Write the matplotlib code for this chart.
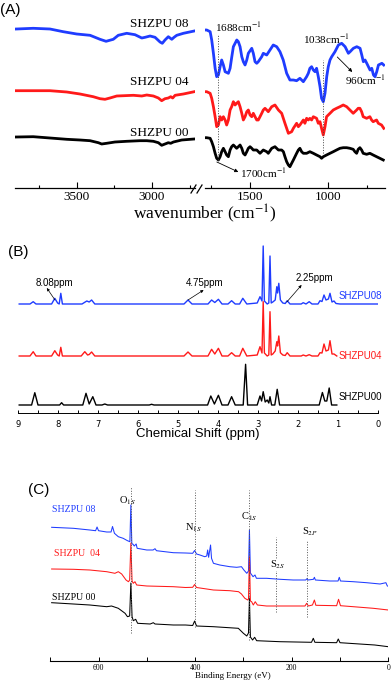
import matplotlib
matplotlib.use("Agg")
import matplotlib.pyplot as plt
from matplotlib.lines import Line2D

plt.rcParams['mathtext.fontset'] = 'stix'
SERIF = 'Liberation Serif'
SANS = 'Liberation Sans'
BLUE = '#1f3cff'
RED = '#ff1a1a'

# ---------------- (A) FTIR, two broken segments ----------------
ir_left_wn_08 = [3900, 3788, 3677, 3589, 3500, 3411, 3345, 3305, 3257, 3224, 3168, 3113, 3068, 3046, 3013,
                 2980, 2947, 2932, 2914, 2892, 2869, 2854, 2836, 2792, 2720]
ir_left_08 = [159, 159.7, 159, 156.3, 154, 152.7, 148.7, 146.7, 148.7, 152.7, 154.7, 153.3, 150, 150.7, 152,
              150.7, 146, 144.7, 148, 151.3, 148.7, 150.7, 152.7, 154.7, 157]
ir_left_wn_04 = [3900, 3677, 3566, 3478, 3390, 3345, 3312, 3279, 3234, 3124, 3068, 3035, 2991, 2958, 2936,
                 2914, 2892, 2876, 2863, 2847, 2792, 2720]
ir_left_04 = [97.3, 97.3, 96, 94, 91.3, 89.3, 88.7, 90, 92, 92.7, 92, 93, 92, 90, 87.3,
              89.3, 90, 91.3, 90, 92.7, 94, 96.3]
ir_left_wn_00 = [3900, 3788, 3677, 3566, 3478, 3411, 3356, 3334, 3301, 3246, 3168, 3080, 3035, 2991, 2958,
                 2936, 2914, 2892, 2876, 2858, 2803, 2720]
ir_left_00 = [51, 51.3, 50, 48.7, 48, 47.3, 45.3, 44, 44.7, 46, 46.7, 47.3, 47.3, 46.7, 45.3,
              42.7, 44, 45.3, 44.7, 46, 48, 49]

ir_right_wn_08 = [1786, 1776, 1754, 1744, 1733, 1722, 1712, 1701, 1690, 1680, 1669, 1658, 1637, 1626, 1615,
                  1605, 1583, 1573, 1562, 1551, 1541, 1530, 1519, 1509, 1487, 1477, 1466, 1455, 1445, 1423,
                  1413, 1391, 1370, 1349, 1327, 1306, 1285, 1263, 1242, 1220, 1199, 1178, 1156, 1135, 1124,
                  1114, 1103, 1092, 1081, 1071, 1060, 1049, 1039, 1028, 1017, 1006, 996, 985, 974, 953,
                  931, 910, 888, 867, 856, 835, 813, 792, 781, 771, 760, 749, 728, 717, 706,
                  696, 685, 674, 652, 640]
ir_right_08 = [158, 158, 156.3, 148, 134.7, 119.7, 111.3, 113, 121.3, 128, 123, 116.3, 114.7, 119.7, 131.3,
               141.3, 148, 146.3, 141.3, 131.3, 126.3, 123, 128, 134.7, 139.7, 134.7, 126.3, 124.7, 126.3, 131.3,
               134.7, 133, 138, 143, 141.3, 136.3, 128, 114.7, 108, 108, 107.3, 109.7, 106.3, 111.3, 114.7,
               119.7, 121.3, 118, 116.3, 119.7, 111.3, 101.3, 89.7, 86.3, 94.7, 111.3, 121.3, 128, 131.3, 136.3,
               143, 144.7, 141.3, 134.7, 136.3, 139.7, 141.3, 139.7, 133, 126.3, 128, 124.7, 118, 119.7, 113,
               111.3, 116.3, 123, 124.7, 123]
ir_right_wn_04 = [1786, 1776, 1754, 1744, 1733, 1722, 1712, 1701, 1690, 1680, 1669, 1658, 1648, 1637, 1626,
                  1616, 1605, 1594, 1584, 1573, 1562, 1551, 1541, 1530, 1519, 1509, 1498, 1487, 1477, 1466,
                  1455, 1445, 1434, 1423, 1413, 1402, 1391, 1381, 1359, 1338, 1316, 1295, 1274, 1252, 1231,
                  1220, 1199, 1188, 1178, 1156, 1146, 1135, 1124, 1114, 1103, 1092, 1071, 1060, 1049, 1039,
                  1028, 1017, 1007, 985, 964, 943, 921, 900, 878, 857, 846, 836, 814, 804, 793,
                  782, 772, 750, 729, 718, 708, 686, 675, 654, 640]
ir_right_04 = [96.3, 96.3, 94.7, 89.7, 81.3, 71.3, 61.3, 63, 71.3, 68, 71.3, 68, 63, 68, 78,
               81.3, 86.3, 83, 84.7, 86.3, 81.3, 74.7, 68, 71.3, 76.3, 78, 73, 71.3, 74.7, 71.3,
               68, 68, 71.3, 74.7, 78, 79.7, 78, 76.3, 81.3, 83, 78, 74.7, 64.7, 54.7, 56.3,
               59.7, 64.7, 61.3, 63, 68, 64.7, 69.7, 68, 69.7, 68, 71.3, 69.7, 64.7, 66.3, 59.7,
               53, 61.3, 71.3, 74.7, 78, 79.7, 81.3, 83, 81.3, 78, 76.3, 74.7, 78, 79.7, 79.7,
               76.3, 71.3, 69.7, 71.3, 68, 66.3, 68, 64.7, 63, 59.7]
ir_right_wn_00 = [1786, 1776, 1754, 1744, 1733, 1722, 1712, 1701, 1690, 1680, 1669, 1658, 1648, 1637, 1626,
                  1616, 1605, 1594, 1584, 1573, 1562, 1551, 1541, 1530, 1519, 1509, 1498, 1487, 1477, 1455,
                  1434, 1413, 1391, 1381, 1359, 1338, 1316, 1295, 1284, 1274, 1263, 1252, 1242, 1231, 1220,
                  1199, 1188, 1178, 1167, 1156, 1135, 1114, 1092, 1071, 1049, 1039, 1028, 1007, 985, 964,
                  943, 921, 900, 878, 857, 836, 825, 814, 804, 793, 782, 772, 750, 729, 708,
                  686, 665, 643]
ir_right_00 = [50.3, 50.3, 49.7, 46.3, 41.3, 34.7, 29.7, 28, 31.3, 36.3, 39.7, 36.3, 33, 31.3, 38,
               41.3, 43, 41.3, 39.7, 41.3, 43, 39.7, 34.7, 33, 36.3, 39.7, 41.3, 39.7, 38, 38,
               34.7, 38, 36.3, 34.7, 39.7, 41.3, 38, 38, 36.3, 31.3, 26.3, 23, 21.3, 24.7, 28,
               34.7, 38, 39.7, 36.3, 34.7, 34.7, 36.3, 34.7, 33, 31.3, 29.7, 31.3, 33, 34.7, 36.3,
               38, 39.7, 40.3, 40.3, 39.7, 38.7, 36.3, 34.7, 38.7, 40.3, 38, 34.7, 33.7, 34.7, 33,
               31.3, 29.7, 28]

# ---------------- (B) 1H NMR ----------------
nmr_ppm_08 = [8.97, 8.70, 8.62, 8.55, 8.16, 8.08, 8.01, 7.97, 7.93, 7.89, 7.40, 7.28, 7.22, 7.16, 7.08,
              4.85, 4.75, 4.65, 4.25, 4.16, 4.08, 3.99, 3.90, 3.75, 3.66, 3.57, 3.46, 3.38, 3.28, 3.02,
              2.95, 2.90, 2.87, 2.84, 2.77, 2.73, 2.70, 2.67, 2.63, 2.57, 2.53, 2.51, 2.48, 2.44, 2.38,
              2.32, 2.27, 2.20, 1.92, 1.87, 1.80, 1.72, 1.65, 1.50, 1.45, 1.40, 1.35, 1.30, 1.24, 1.20,
              1.15, 1.10, 1.05, 0.95, 0.0]
nmr_08 = [109, 109, 111.3, 109, 109, 114.7, 110, 109, 119.7, 109, 109, 112, 111, 113, 109,
          109, 113, 109, 109, 113, 110.5, 113.7, 109, 109, 112.3, 109, 109, 114.7, 109, 110,
          116.3, 112, 167, 112, 109, 110, 157, 110, 111, 113, 126.3, 120, 129.7, 113, 110,
          109.5, 112.3, 109, 109, 110.3, 109, 111.3, 109, 109, 112.3, 111.5, 118, 113, 114, 119.7,
          111, 112, 109.5, 109, 109]
nmr_ppm_04 = [8.97, 8.70, 8.62, 8.55, 8.16, 8.08, 8.01, 7.97, 7.93, 7.89, 7.42, 7.33, 7.26, 7.22, 7.16,
              7.08, 4.85, 4.75, 4.65, 4.25, 4.16, 4.08, 3.99, 3.90, 3.75, 3.66, 3.57, 3.46, 3.38, 3.28,
              3.02, 2.95, 2.90, 2.87, 2.84, 2.77, 2.73, 2.70, 2.67, 2.63, 2.57, 2.53, 2.51, 2.48, 2.44,
              2.38, 2.32, 2.27, 2.20, 1.92, 1.87, 1.80, 1.72, 1.65, 1.50, 1.45, 1.40, 1.35, 1.30, 1.24,
              1.20, 1.15, 1.10, 1.03]
nmr_04 = [57, 57, 61.3, 57, 57, 62.3, 58, 57, 65.7, 57, 57, 61.3, 58, 58.5, 61,
          57, 57, 61, 57, 57, 63.7, 59, 64.7, 57, 57, 60.3, 57, 57, 64.7, 57,
          58, 66.3, 60, 111.3, 60, 57, 58, 101.3, 58, 59, 62, 71.3, 67, 77, 60.3,
          58, 57.5, 60.3, 57, 57, 58, 57, 58.3, 57, 57, 60.3, 60, 69, 62, 63,
          72.3, 59, 59, 57]
nmr_ppm_00 = [8.97, 8.66, 8.58, 8.50, 7.96, 7.91, 7.86, 7.38, 7.30, 7.22, 7.13, 7.05, 6.90, 6.83, 6.76,
              5.72, 5.66, 5.60, 4.26, 4.18, 4.09, 3.99, 3.90, 3.75, 3.66, 3.57, 3.37, 3.31, 3.26, 3.02,
              2.95, 2.91, 2.87, 2.82, 2.77, 2.73, 2.70, 2.66, 2.58, 2.52, 2.46, 2.40, 1.47, 1.39, 1.33,
              1.28, 1.22, 1.16, 1.03]
nmr_00 = [8, 8, 20.3, 8, 8, 10.3, 8, 8, 19.7, 9, 16.3, 8, 8, 9, 8,
          8, 8.7, 8, 8, 17, 9, 17.7, 8, 8, 16.3, 8, 8, 48.7, 8, 8,
          17, 12, 21.3, 11, 13, 10, 16.3, 8, 8, 23.7, 8, 8, 8, 20.5, 12,
          12, 25, 8, 8]

# ---------------- (C) XPS survey ----------------
xps_ev_08 = [697, 652, 618, 606, 603, 600, 583, 574, 571, 567, 559, 549, 540, 535, 533, 531, 529, 526, 522, 520,
             500, 487, 483, 480, 445, 420, 405, 401, 397, 390, 380, 376, 374, 372, 368, 366, 362, 349, 328, 314,
             304, 299, 293, 289.5, 287.5, 285.5, 280, 276, 273, 252, 224, 197, 171, 168.5, 166, 155, 153, 151, 121, 104,
             101.5, 99, 72.5, 45, 17, 5, 2, 0]
xps_08 = [133.7, 132.7, 131, 130.3, 134, 130.3, 129, 129, 134.5, 127.7, 124.3, 122.7, 120.3, 119.3, 156, 117, 117, 115, 117, 112.7,
          111, 111, 112.3, 110.3, 108.3, 108, 107.7, 110.5, 107, 106, 104.3, 105, 111, 103.7, 116, 102.7, 97.7, 96, 94.3, 93.7,
          94.3, 91, 87.7, 90, 131, 88, 84.3, 86, 82.7, 82.7, 81.7, 81, 81, 82.3, 81, 81.7, 83.7, 81, 80, 80,
          83.7, 80, 79.3, 78.3, 77, 78.3, 75, 74.7]
xps_ev_04 = [697, 652, 618, 583, 566, 559, 552, 543, 538, 535.5, 533, 530.5, 528, 524.5, 521, 500, 445, 420, 405, 401,
             397, 362, 328, 310, 304, 297, 291, 289.5, 287.5, 285.5, 283, 279.5, 275.5, 271, 252, 224, 172.5, 169, 165.5, 157,
             153, 150, 107, 103, 99, 72.5, 31, 0]
xps_04 = [92, 91.7, 91, 89.3, 87.7, 89.3, 87, 81, 79.3, 81, 118, 80, 77.7, 79.3, 76, 75, 74.3, 73.5, 73.7, 76.5,
          73.5, 71, 70.3, 69.3, 67, 62.7, 61, 62, 104.3, 60, 59.3, 56, 59.3, 56, 55, 55, 55, 57.7, 55, 56,
          61, 55.7, 55.3, 61.7, 55.3, 54.3, 52.7, 51]
xps_ev_00 = [697, 652, 618, 583, 573, 559, 545, 540, 535.5, 533, 530.5, 528, 523, 519, 493, 486.5, 483, 445, 420, 405,
             401, 397, 362, 310.5, 300, 293, 289.5, 287.5, 285.5, 281, 276.7, 272.6, 224, 159, 155.3, 152, 107, 103.6, 100, 28,
             0]
xps_00 = [58.3, 57, 56, 54.3, 55, 52.7, 47.7, 44.3, 45, 78, 44.3, 40.3, 41.7, 37.7, 37, 38.3, 37, 36, 36, 35.5,
          40, 35, 34.3, 32.7, 27.7, 25, 28, 63, 24, 21, 23.7, 20.3, 19.3, 18.7, 22.7, 18.7, 18.3, 22, 18.3, 16,
          14.3]

W, H = 392.0, 681.0
fig = plt.figure(figsize=(W / 100, H / 100), dpi=100)


def add_ax(x0, y0, x1, y1):
    # axes placed by pixel box (left, top, right, bottom)
    ax = fig.add_axes([x0 / W, 1 - y1 / H, (x1 - x0) / W, (y1 - y0) / H])
    for s in ['left', 'right', 'top']:
        ax.spines[s].set_visible(False)
    ax.spines['bottom'].set_linewidth(0.9)
    ax.set_yticks([])
    ax.patch.set_alpha(0)
    return ax


def ftext(x, y, s, **kw):
    fig.text(x / W, 1 - y / H, s, **kw)


# ---- (A) ----
axl = add_ax(15, 5, 195, 188)
axr = add_ax(205, 5, 385, 188)
axl.set_xlim(3909, 2715)
axr.set_xlim(1787, 632)
axl.set_xticks([3500, 3000])
axl.set_xticks([3750, 3250, 2750], minor=True)
axr.set_xticks([1500, 1000])
axr.set_xticks([1750, 1250, 750], minor=True)
for ax in (axl, axr):
    ax.set_ylim(0, 183)
    ax.tick_params(axis='x', direction='in', length=4, width=0.8, pad=2)
    ax.tick_params(axis='x', which='minor', direction='in', length=2.5, width=0.8)
    for lab in ax.get_xticklabels():
        lab.set_fontfamily(SERIF)
        lab.set_fontsize(9.5)

lw_a = 2.0
axl.plot(ir_left_wn_08, ir_left_08, color=BLUE, lw=lw_a)
axl.plot(ir_left_wn_04, ir_left_04, color=RED, lw=lw_a)
axl.plot(ir_left_wn_00, ir_left_00, color='black', lw=lw_a)
axr.plot(ir_right_wn_08, ir_right_08, color=BLUE, lw=lw_a)
axr.plot(ir_right_wn_04, ir_right_04, color=RED, lw=lw_a)
axr.plot(ir_right_wn_00, ir_right_00, color='black', lw=lw_a)

for lab, yy in [('SHZPU 08', 164), ('SHZPU 04', 106), ('SHZPU 00', 55)]:
    axl.text(2954, yy, lab, family=SERIF, fontsize=9.5, ha='center', va='center')

axr.plot([1706, 1706], [28, 153], ls=':', color='#444444', lw=0.7)
axr.plot([1030, 1030], [35, 128], ls=':', color='#444444', lw=0.7)
axr.text(1722, 161, '1688cm$^{-1}$', family=SERIF, fontsize=8, ha='left', va='center')
axr.text(1160, 149, '1038cm$^{-1}$', family=SERIF, fontsize=8, ha='left', va='center')
axr.text(890, 108, '960cm$^{-1}$', family=SERIF, fontsize=8, ha='left', va='center')
axr.text(1562, 15, '1700cm$^{-1}$', family=SERIF, fontsize=8, ha='left', va='center')
aprops = dict(arrowstyle='-|>', lw=0.6, color='black', mutation_scale=5, shrinkA=0, shrinkB=0)
axr.annotate('', xy=(1573, 16), xytext=(1711, 26), arrowprops=aprops)
axr.annotate('', xy=(842, 116), xytext=(938, 131), arrowprops=aprops)

# axis break marks
for x0 in (191, 197):
    fig.add_artist(Line2D([x0 / W, (x0 + 5) / W], [1 - 193 / H, 1 - 185 / H],
                          transform=fig.transFigure, color='black', lw=0.9))

ftext(205, 214, 'wavenumber (cm$^{-1}$)', family=SERIF, fontsize=12.5, ha='center', va='center')
ftext(0, 10, '(A)', family=SANS, fontsize=11, ha='left', va='center')

# ---- (B) ----
axb = add_ax(18, 240, 378, 413)
axb.set_xlim(9, 0)
axb.set_ylim(0, 173)
axb.set_xticks(range(9, -1, -1))
axb.set_xticks([8.5, 7.5, 6.5, 5.5, 4.5, 3.5, 2.5, 1.5, 0.5], minor=True)
axb.tick_params(axis='x', which='both', direction='in', length=2.5, width=0.7, pad=5, labelsize=6)
axb.spines['bottom'].set_linewidth(0.7)
lw_b = 1.0
axb.plot(nmr_ppm_08, nmr_08, color=BLUE, lw=lw_b)
axb.plot(nmr_ppm_04, nmr_04, color=RED, lw=lw_b)
axb.plot(nmr_ppm_00, nmr_00, color='black', lw=lw_b)
axb.text(0.45, 117, 'SHZPU08', color=BLUE, family=SANS, fontsize=7, ha='center', va='center')
axb.text(0.45, 57, 'SHZPU04', color=RED, family=SANS, fontsize=7, ha='center', va='center')
axb.text(0.45, 16, 'SHZPU00', color='black', family=SANS, fontsize=7, ha='center', va='center')

bprops = dict(arrowstyle='-|>', lw=0.5, color='black', mutation_scale=4, shrinkA=0, shrinkB=0)
axb.text(8.08, 130, '8.08ppm', family=SANS, fontsize=7, ha='center', va='center')
axb.annotate('', xy=(8.28, 125), xytext=(8.075, 113), arrowprops=bprops)
axb.text(4.33, 130, '4.75ppm', family=SANS, fontsize=7, ha='center', va='center')
axb.annotate('', xy=(4.36, 123), xytext=(4.75, 113), arrowprops=bprops)
axb.text(1.58, 135, '2.25ppm', family=SANS, fontsize=7, ha='center', va='center')
axb.annotate('', xy=(1.91, 128), xytext=(2.28, 111), arrowprops=bprops)

ftext(198, 434, 'Chemical Shift (ppm)', family=SANS, fontsize=9.5, ha='center', va='center')
ftext(8, 252, '(B)', family=SANS, fontsize=11, ha='left', va='center')

# ---- (C) ----
axc = add_ax(50.2, 470, 388.3, 661)
axc.set_xlim(700, 0)
axc.set_ylim(0, 191)
axc.set_xticks([600, 400, 200, 0])
axc.set_xticks([700, 500, 300, 100], minor=True)
axc.tick_params(axis='x', which='both', direction='in', length=3, width=0.7, pad=2.5)
axc.spines['bottom'].set_linewidth(0.8)
for lab in axc.get_xticklabels():
    lab.set_fontfamily(SERIF)
    lab.set_fontsize(5.5)
lw_c = 0.75
axc.plot(xps_ev_08, xps_08, color=BLUE, lw=lw_c)
axc.plot(xps_ev_04, xps_04, color=RED, lw=lw_c)
axc.plot(xps_ev_00, xps_00, color='black', lw=lw_c)

for xx, y0, y1 in [(533, 28, 174), (400, 34, 171), (287.5, 21, 171), (233, 49, 124), (169, 44, 121)]:
    axc.plot([xx, xx], [y0, y1], ls=':', color='#555555', lw=0.7)

axc.text(539, 160, 'O$_{1S}$', family=SERIF, fontsize=7.5, ha='center', va='center')
axc.text(404, 133, 'N$_{1S}$', family=SERIF, fontsize=7.5, ha='center', va='center')
axc.text(289, 144, 'C$_{1S}$', family=SERIF, fontsize=7.5, ha='center', va='center')
axc.text(230, 96, 'S$_{2S}$', family=SERIF, fontsize=7.5, ha='center', va='center',
         bbox=dict(facecolor='white', edgecolor='none', pad=0))
axc.text(163, 129, 'S$_{2P}$', family=SERIF, fontsize=7.5, ha='center', va='center')

axc.text(696, 151, 'SHZPU 08', color=BLUE, family=SERIF, fontsize=7, ha='left', va='center')
axc.text(692, 108, 'SHZPU  04', color=RED, family=SERIF, fontsize=7, ha='left', va='center')
axc.text(696, 63, 'SHZPU 00', color='black', family=SERIF, fontsize=7, ha='left', va='center')

ftext(233, 676, 'Binding Energy (eV)', family=SERIF, fontsize=6.5, ha='center', va='center')
ftext(28, 490, '(C)', family=SANS, fontsize=11, ha='left', va='center')

fig.savefig('out.png', dpi=100)
